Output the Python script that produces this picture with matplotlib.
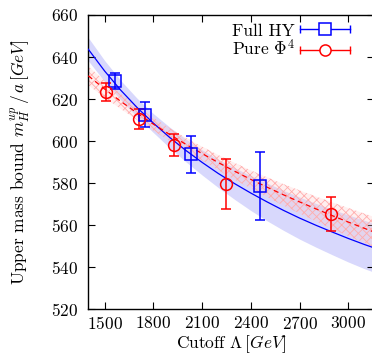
import numpy as np
import matplotlib
matplotlib.use("Agg")
import matplotlib.pyplot as plt
from matplotlib.legend_handler import HandlerBase
from matplotlib.lines import Line2D

plt.rcParams['font.family'] = 'serif'
plt.rcParams['font.serif'] = ['cmr10']
plt.rcParams['mathtext.fontset'] = 'cm'
plt.rcParams['axes.formatter.use_mathtext'] = True
plt.rcParams['font.size'] = 12.5
plt.rcParams['hatch.linewidth'] = 0.6

# measured points
hy_cut = [1566, 1748, 2032, 2455]
hy_mass = [628.6, 612.6, 593.7, 578.6]
hy_err = [3.8, 5.8, 8.8, 16.0]

phi_cut = [1510, 1710, 1927, 2247, 2892]
phi_mass = [623.5, 610.6, 598.2, 579.6, 565.3]
phi_err = [4.3, 4.6, 5.3, 12.0, 8.2]

# fit curves with error bands
fit_cut = [1400, 1500, 1600, 1700, 1800, 1900, 2000, 2100, 2200, 2300,
           2400, 2500, 2600, 2700, 2800, 2900, 3000, 3100, 3160]
hy_fit = [643.7, 633.4, 624.2, 616.0, 608.6, 601.8, 595.6, 589.9, 584.6, 579.8,
          575.3, 571.1, 567.1, 563.4, 560.0, 556.8, 553.7, 550.8, 549.2]
hy_band = [5.5, 5.0, 4.6, 4.4, 4.5, 4.9, 5.4, 6.0, 6.7, 7.5,
           8.3, 9.0, 9.5, 10.0, 10.4, 10.8, 11.2, 11.5, 11.6]
phi_fit = [631.1, 624.8, 618.9, 613.4, 608.1, 603.2, 598.5, 594.1, 589.8, 585.7,
           581.8, 578.1, 574.5, 571.1, 567.8, 564.6, 561.5, 558.5, 556.7]
phi_band = [4.5, 4.0, 3.6, 3.3, 3.1, 3.0, 3.1, 3.3, 3.6, 4.0,
            4.3, 4.7, 5.1, 5.5, 5.9, 6.3, 6.7, 7.0, 7.2]

blue = '#0000ff'
red = '#ff0000'

fig = plt.figure(figsize=(3.72, 3.59), dpi=100)
ax = fig.add_axes([88.3 / 372, 1 - 309.3 / 359, 286 / 372, 294.3 / 359])

fc = np.array(fit_cut)
ax.fill_between(fc, np.array(hy_fit) - hy_band, np.array(hy_fit) + hy_band,
                color='#d8d8fc', linewidth=0, zorder=1)
ax.fill_between(fc, np.array(phi_fit) - phi_band, np.array(phi_fit) + phi_band,
                facecolor=(1, 0.8, 0.8, 0.3), edgecolor='#ffacac', hatch='xxxx',
                linewidth=0, zorder=2)
ax.plot(fc, hy_fit, color=blue, lw=0.9, zorder=3)
ax.plot(fc, phi_fit, color=red, lw=0.9, ls=(0, (4, 3)), zorder=3)

hy = ax.errorbar(hy_cut, hy_mass, yerr=hy_err, fmt='s', ms=8.5, mfc='none', mec=blue,
                 mew=1.1, ecolor=blue, elinewidth=1.1, capsize=3.5, capthick=1.1, zorder=4)
phi = ax.errorbar(phi_cut, phi_mass, yerr=phi_err, fmt='o', ms=8.5, mfc='none', mec=red,
                  mew=1.1, ecolor=red, elinewidth=1.1, capsize=3.5, capthick=1.1, zorder=4)


class CapLineHandler(HandlerBase):
    # gnuplot style key: horizontal bar with end caps and the marker in the middle
    def create_artists(self, legend, orig_handle, xdescent, ydescent,
                       width, height, fontsize, trans):
        src = orig_handle[0]
        c = src.get_markeredgecolor()
        y = height / 2 - ydescent
        x0, x1 = -xdescent, width - xdescent
        bar = Line2D([x0, x1], [y, y], color=c, lw=1.0, transform=trans)
        caps = Line2D([x0, x1], [y, y], ls='none', marker='|', ms=6, mew=1.0,
                      color=c, transform=trans)
        mk = Line2D([(x0 + x1) / 2], [y], ls='none', marker=src.get_marker(), ms=8,
                    mfc='white', mec=c, mew=1.1, transform=trans)
        return [bar, caps, mk]


ax.legend([hy, phi], ['Full HY', r'Pure $\Phi^4$'], loc='upper right',
          bbox_to_anchor=((350 - 88.3) / 286, 0.972), frameon=False,
          markerfirst=False, handlelength=2.9, handletextpad=0.3,
          labelspacing=0.0, borderpad=0, borderaxespad=0,
          handler_map={type(hy): CapLineHandler()})

ax.set_xlim(1400, 3160)
ax.set_ylim(520, 660)
ax.set_xticks([1500, 1800, 2100, 2400, 2700, 3000])
ax.set_yticks([520, 540, 560, 580, 600, 620, 640, 660])
ax.tick_params(direction='in', top=True, right=True, length=5, width=0.8,
               labelsize=12.5, pad=7)
ax.tick_params(axis='x', pad=4)
for s in ax.spines.values():
    s.set_linewidth(1.0)

ax.set_xlabel(r'Cutoff $\Lambda\,[GeV]$', labelpad=1)
ax.set_ylabel(r'Upper mass bound $m_H^{up}\,/\,a\,[GeV]$', labelpad=13)

fig.savefig('out.png', dpi=100)
